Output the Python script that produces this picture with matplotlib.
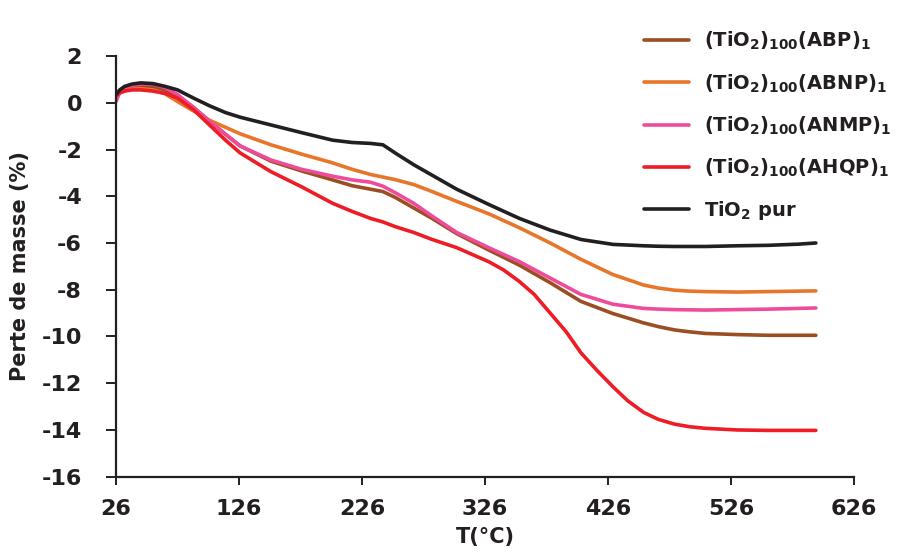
import matplotlib
matplotlib.use("Agg")
import matplotlib.pyplot as plt

plt.rcParams['font.family'] = ['DejaVu Sans']
plt.rcParams['font.weight'] = 'bold'
plt.rcParams['axes.unicode_minus'] = False
plt.rcParams['mathtext.fontset'] = 'custom'
plt.rcParams['mathtext.rm'] = 'DejaVu Sans:bold'
plt.rcParams['mathtext.it'] = 'DejaVu Sans:bold'
plt.rcParams['mathtext.bf'] = 'DejaVu Sans:bold'

# Temperatures (°C) at which values were read
T = [26, 29, 33, 39, 46, 56, 66, 76, 89, 102, 115, 127, 152, 177, 202, 218, 233,
     243, 253, 268, 283, 303, 329, 354, 379, 404, 430, 455, 467, 480, 492, 505, 531,
     556, 581, 595]
T_ahqp = [26, 29, 33, 39, 46, 56, 66, 76, 89, 102, 115, 127, 152, 177, 202, 218, 233,
          243, 253, 268, 283, 303, 329, 341, 354, 366, 379, 392, 404, 417, 430, 442, 455,
          467, 480, 492, 505, 531, 556, 581, 595]

abp = [0.35, 0.5, 0.62, 0.7, 0.72, 0.68, 0.55, 0.3, -0.2, -0.78, -1.35, -1.85, -2.5, -2.92,
       -3.3, -3.55, -3.7, -3.8, -4.05, -4.5, -4.95, -5.6, -6.3, -6.95, -7.7, -8.5, -9.02,
       -9.42, -9.58, -9.72, -9.8, -9.87, -9.92, -9.95, -9.95, -9.95]
abnp = [0.3, 0.42, 0.52, 0.58, 0.6, 0.55, 0.38, 0.05, -0.35, -0.75, -1.05, -1.33, -1.8, -2.2,
        -2.57, -2.85, -3.07, -3.18, -3.29, -3.5, -3.8, -4.22, -4.75, -5.35, -6.0, -6.7, -7.35,
        -7.8, -7.93, -8.02, -8.06, -8.08, -8.1, -8.08, -8.06, -8.05]
anmp = [0.05, 0.45, 0.62, 0.74, 0.8, 0.8, 0.65, 0.35, -0.2, -0.8, -1.35, -1.85, -2.45, -2.85,
        -3.14, -3.3, -3.4, -3.57, -3.85, -4.3, -4.85, -5.55, -6.2, -6.8, -7.5, -8.2, -8.62,
        -8.8, -8.83, -8.85, -8.86, -8.87, -8.85, -8.83, -8.8, -8.78]
ahqp = [0.3, 0.42, 0.5, 0.55, 0.55, 0.5, 0.4, 0.2, -0.3, -0.95, -1.6, -2.15, -2.95, -3.6,
        -4.3, -4.65, -4.95, -5.1, -5.3, -5.55, -5.85, -6.2, -6.8, -7.15, -7.65, -8.2, -9.0,
        -9.8, -10.7, -11.45, -12.15, -12.75, -13.25, -13.55, -13.75, -13.86, -13.93, -14.0,
        -14.02, -14.02, -14.02]
pur = [0.35, 0.55, 0.7, 0.8, 0.85, 0.82, 0.7, 0.55, 0.2, -0.13, -0.42, -0.62, -0.95, -1.28,
       -1.6, -1.7, -1.74, -1.8, -2.15, -2.65, -3.1, -3.7, -4.35, -4.95, -5.45, -5.85, -6.06,
       -6.12, -6.14, -6.15, -6.15, -6.15, -6.12, -6.1, -6.05, -6.0]

labels = [r'$\mathrm{(TiO_2)_{100}(ABP)_1}$', r'$\mathrm{(TiO_2)_{100}(ABNP)_1}$',
          r'$\mathrm{(TiO_2)_{100}(ANMP)_1}$', r'$\mathrm{(TiO_2)_{100}(AHQP)_1}$',
          r'$\mathrm{TiO_2}$ pur']
colors = ['#9A4E22', '#E8762A', '#EE4B9B', '#EE1C25', '#231F20']
series = [(T, abp), (T, abnp), (T, anmp), (T_ahqp, ahqp), (T, pur)]

xticks = [26, 126, 226, 326, 426, 526, 626]
yticks = [2, 0, -2, -4, -6, -8, -10, -12, -14, -16]

fig = plt.figure(figsize=(9.03, 5.53), dpi=100)
ax = fig.add_axes([0.1285, 0.138, 0.8172, 0.7607])

for (x, y), c, l in zip(series, colors, labels):
    ax.plot(x, y, color=c, lw=2.6, label=l, solid_joinstyle='round', solid_capstyle='round')

ax.set_xlim(26, 626)
ax.set_ylim(-16, 2)
ax.set_xticks(xticks)
ax.set_yticks(yticks)
for s in ['top', 'right']:
    ax.spines[s].set_visible(False)
for s in ['left', 'bottom']:
    ax.spines[s].set_linewidth(1.6)
    ax.spines[s].set_color('#231F20')
ax.tick_params(axis='both', direction='out', width=1.4, color='#231F20',
               labelsize=16, labelcolor='#231F20')
ax.tick_params(axis='x', length=6, pad=10)
ax.tick_params(axis='y', length=7.5, pad=17)
for lab in ax.get_xticklabels() + ax.get_yticklabels():
    lab.set_fontweight('bold')

ax.set_xlabel('T(°C)', fontsize=15, fontweight='bold', labelpad=6, color='#231F20')
ax.set_ylabel('Perte de masse (%)', fontsize=15, fontweight='bold', labelpad=8, color='#231F20')

leg = fig.legend(loc='upper left', bbox_to_anchor=(0.705, 0.96), frameon=False,
                 fontsize=14, handlelength=2.3, handletextpad=0.75, labelspacing=1.03,
                 borderaxespad=0)
for t in leg.get_texts():
    t.set_color('#231F20')

fig.savefig('out.png', dpi=100)
